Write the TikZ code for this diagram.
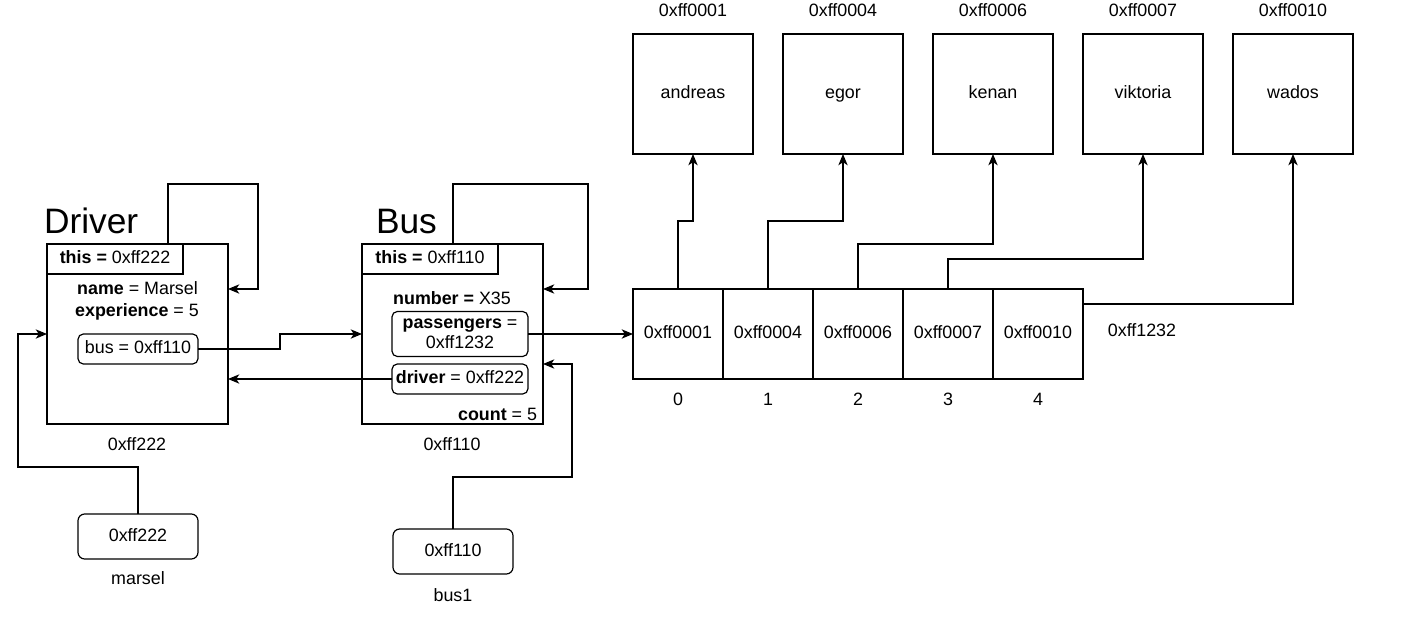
\documentclass[tikz,border=0pt]{standalone}
\usepackage{fontspec}
\setmainfont{Liberation Sans}
\usetikzlibrary{calc,arrows.meta}

\tikzset{
  every node/.style={font=\fontsize{13.4pt}{15.3pt}\selectfont, inner sep=0pt, outer sep=0pt,
    text height=9.6pt, text depth=2.4pt},
  wh/.style 2 args={minimum width=#1*0.75pt, minimum height=#2*0.75pt},
  objbox/.style={draw, line width=0.9pt},
  fieldbox/.style={draw, line width=0.9pt, rounded corners=4pt},
  cell/.style={draw, line width=0.9pt, wh={90}{90}},
  strbox/.style={draw, line width=0.9pt, wh={120}{120}},
  varbox/.style={draw, line width=0.9pt, rounded corners=5pt, wh={120}{45}},
  title/.style={font=\fontsize{26.5pt}{30pt}\selectfont, anchor=base west},
  lbl/.style={},
  conn/.style={line width=0.9pt},
  arr/.style={conn, -{Stealth[length=8.5pt, width=7pt, inset=2.4pt]}},
}

\begin{document}
\begin{tikzpicture}[x=0.75pt, y=-0.75pt]
  \useasboundingbox (0,0) rectangle (1415,635);

  % ---- Driver object ----
  \node[title] (drvtitle) at (44,233) {Driver};
  \node[objbox, wh={181}{180}] (drv) at (137.5,334) {};
  \node[objbox, wh={136}{30}] (drvthis) at (115,259) {\textbf{this =} 0xff222};
  \node (drvname) at (137.5,290) {\textbf{name} = Marsel};
  \node (drvexp) at (137,312) {\textbf{experience} = 5};
  \node[fieldbox, wh={120}{30}] (busf) at (138,349) {bus = 0xff110};
  \node[lbl] (drvaddr) at (137,446) {0xff222};

  % ---- Bus object ----
  \node[title] (bustitle) at (376,233) {Bus};
  \node[objbox, wh={181}{180}] (bus) at (452.5,334) {};
  \node[objbox, wh={136}{30}] (busthis) at (430,259) {\textbf{this =} 0xff110};
  \node (busnum) at (452,300) {\textbf{number =} X35};
  \node[fieldbox, wh={136}{45}, align=center, text height=, text depth=] (pass) at (460,334) {\textbf{passengers} =\\0xff1232};
  \node[fieldbox, wh={136}{30}] (drvf) at (460,379) {\textbf{driver} = 0xff222};
  \node[anchor=east] (buscount) at (537,416) {\textbf{count} = 5};
  \node[lbl] (busaddr) at (452,446) {0xff110};

  % ---- local variables ----
  \node[varbox] (marsel) at (138,536.5) {0xff222};
  \node[lbl] (marsellbl) at (138,580) {marsel};
  \node[varbox] (bus1) at (453,551.5) {0xff110};
  \node[lbl] (bus1lbl) at (453,597) {bus1};

  % ---- passengers array ----
  \foreach \i/\a in {0/0xff0001,1/0xff0004,2/0xff0006,3/0xff0007,4/0xff0010} {
    \node[cell] (c\i) at (678+90*\i,334) {\a};
    \node[lbl] (idx\i) at (678+90*\i,401) {\i};
  }
  \node[lbl] (arraddr) at (1142,332) {0xff1232};

  % ---- strings ----
  \foreach \i/\a/\n in {0/0xff0001/andreas,1/0xff0004/egor,2/0xff0006/kenan,3/0xff0007/viktoria,4/0xff0010/wados} {
    \node[strbox] (s\i) at (693+150*\i,94) {\n};
    \node[lbl] (sa\i) at (693+150*\i,12) {\a};
  }

  % ---- references ----
  \draw[arr] ($(drv.north west)+(121,0)$) |- (258,184) |- ($(drv.north east)+(0,45)$);
  \draw[arr] (marsel.north) |- (18,467) |- (drv.west);
  \draw[arr] (busf.east) -- (280,349) |- (bus.west);
  \draw[arr] (drvf.west) -- (drvf.west -| drv.east);
  \draw[arr] (pass.east) -- (pass.east -| c0.west);
  \draw[arr] ($(bus.north west)+(91,0)$) |- (588,184) |- ($(bus.north east)+(0,45)$);
  \draw[arr] (bus1.north) |- (572,477) |- ($(bus.east)+(0,30)$);

  \draw[arr] (c0.north) -- ++(0,-68) -| (s0.south);
  \draw[arr] (c1.north) -- ++(0,-68) -| (s1.south);
  \draw[arr] (c2.north) -- ++(0,-45) -| (s2.south);
  \draw[arr] (c3.north) -- ++(0,-30) -| (s3.south);
  \draw[arr] ($(c4.north east)+(0,15)$) -| (s4.south);
\end{tikzpicture}
\end{document}
